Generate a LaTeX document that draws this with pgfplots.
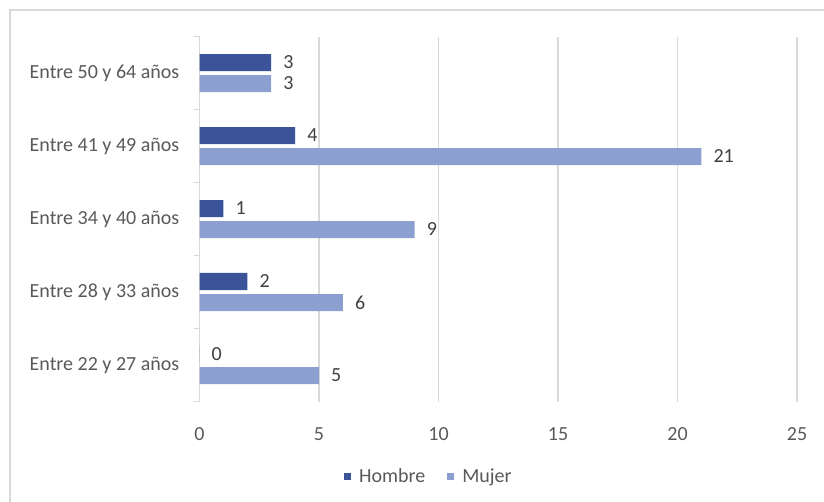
\documentclass[border=0pt]{standalone}
\usepackage{pgfplots}
\pgfplotsset{compat=1.18}
\usepackage{fontspec}
\setmainfont{Carlito}
\definecolor{hombre}{HTML}{3A5399}
\definecolor{mujer}{HTML}{8C9FD1}
\definecolor{gridc}{HTML}{D9D9D9}
\definecolor{txt}{HTML}{595959}
\definecolor{lbl}{HTML}{404040}
\begin{document}
\begin{tikzpicture}
\path[use as bounding box] (0,0) rectangle (824bp,502bp);
\draw[gridc, line width=2bp] (10bp,-5bp) -- (10bp,492bp) -- (830bp,492bp);
\begin{axis}[
  at={(199.5bp,100.5bp)}, anchor=south west,
  scale only axis, width=597.5bp, height=365bp,
  /pgf/number format/assume math mode=true,
  xbar, bar width=17bp,
  xmin=0, xmax=25, ymin=-0.5, ymax=4.5,
  xtick={0,5,10,15,20,25},
  ytick={0,1,2,3,4},
  yticklabels={Entre 22 y 27 años, Entre 28 y 33 años, Entre 34 y 40 años, Entre 41 y 49 años, Entre 50 y 64 años},
  extra y ticks={-0.5,0.5,1.5,2.5,3.5,4.5},
  extra y tick labels={},
  extra y tick style={ytick style={draw=gridc, line width=1.2bp}},
  major tick length=5bp,
  tick align=outside,
  xmajorgrids, grid style={gridc, line width=1.5bp},
  axis x line*=bottom,
  axis y line*=left,
  y axis line style={gridc, line width=1.2bp, -},
  x axis line style={draw=none, -},
  xtick style={draw=none},
  ytick style={draw=none},
  font=\fontsize{20bp}{24bp}\selectfont,
  ticklabel style={text=txt, font=\fontsize{20bp}{24bp}\selectfont},
  yticklabel style={anchor=east, inner sep=0pt, xshift=-15bp},
  xticklabel style={anchor=north, inner sep=0pt, yshift=-21bp},
  nodes near coords,
  nodes near coords style={anchor=west, inner sep=0pt, xshift=12bp, text=lbl, font=\fontsize{20bp}{24bp}\selectfont},
  legend style={at={(0.384,-0.204)}, anchor=center, draw=none, fill=none, inner sep=0pt, text=txt, font=\fontsize{20bp}{24bp}\selectfont, legend columns=2, /tikz/every odd column/.append style={column sep=6bp}, /tikz/every even column/.append style={column sep=20bp}},
  legend image code/.code={\fill[#1] (0bp,-4bp) rectangle (7bp,3bp);},
  clip=false,
]
\addplot[fill=hombre, draw=none, bar shift=10.5bp] coordinates {(0,0) (2,1) (1,2) (4,3) (3,4)};
\addplot[fill=mujer, draw=none, bar shift=-10.5bp] coordinates {(5,0) (6,1) (9,2) (21,3) (3,4)};
\legend{Hombre, Mujer}
\end{axis}
\end{tikzpicture}
\end{document}
